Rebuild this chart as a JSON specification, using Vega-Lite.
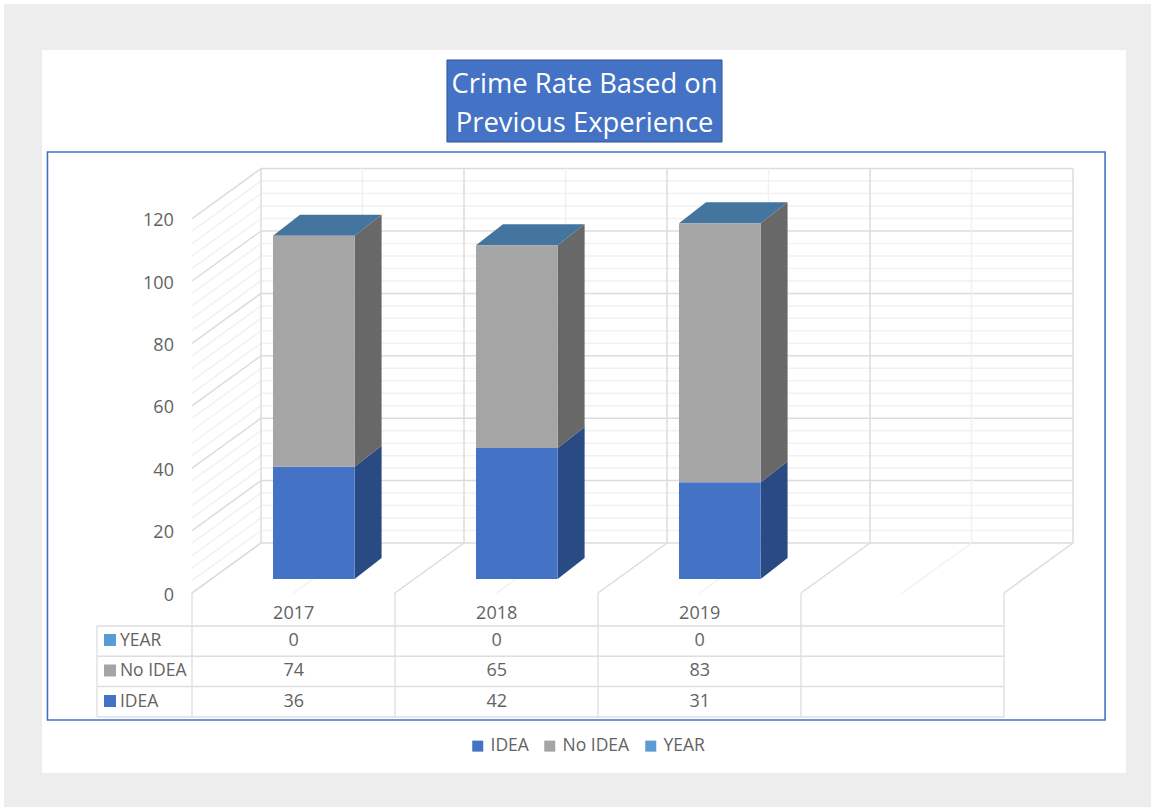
{
  "$schema": "https://vega.github.io/schema/vega-lite/v6.json",
  "width": 1151,
  "height": 807,
  "padding": 0,
  "autosize": {"type": "fit", "contains": "padding"},
  "background": "#ffffff",
  "config": {
    "view": {"stroke": null},
    "axis": {"disable": true},
    "text": {"font": "Open Sans", "fill": "#636363"}
  },
  "datasets": {
    "crime": [
      {"year": 2017, "series": "IDEA", "value": 36},
      {"year": 2017, "series": "No IDEA", "value": 74},
      {"year": 2017, "series": "YEAR", "value": 0},
      {"year": 2018, "series": "IDEA", "value": 42},
      {"year": 2018, "series": "No IDEA", "value": 65},
      {"year": 2018, "series": "YEAR", "value": 0},
      {"year": 2019, "series": "IDEA", "value": 31},
      {"year": 2019, "series": "No IDEA", "value": 83},
      {"year": 2019, "series": "YEAR", "value": 0}
    ],
    "levels": [
      {"level": 4, "kind": "minor"}, {"level": 8, "kind": "minor"}, {"level": 12, "kind": "minor"}, {"level": 16, "kind": "minor"},
      {"level": 24, "kind": "minor"}, {"level": 28, "kind": "minor"}, {"level": 32, "kind": "minor"}, {"level": 36, "kind": "minor"},
      {"level": 44, "kind": "minor"}, {"level": 48, "kind": "minor"}, {"level": 52, "kind": "minor"}, {"level": 56, "kind": "minor"},
      {"level": 64, "kind": "minor"}, {"level": 68, "kind": "minor"}, {"level": 72, "kind": "minor"}, {"level": 76, "kind": "minor"},
      {"level": 84, "kind": "minor"}, {"level": 88, "kind": "minor"}, {"level": 92, "kind": "minor"}, {"level": 96, "kind": "minor"},
      {"level": 104, "kind": "minor"}, {"level": 108, "kind": "minor"}, {"level": 112, "kind": "minor"}, {"level": 116, "kind": "minor"},
      {"level": 0, "kind": "major"}, {"level": 20, "kind": "major"}, {"level": 40, "kind": "major"}, {"level": 60, "kind": "major"},
      {"level": 80, "kind": "major"}, {"level": 100, "kind": "major"}, {"level": 120, "kind": "major"}
    ],
    "slots": [
      {"slot": 0.5, "kind": "minor"}, {"slot": 1.5, "kind": "minor"}, {"slot": 2.5, "kind": "minor"}, {"slot": 3.5, "kind": "minor"},
      {"slot": 0, "kind": "major"}, {"slot": 1, "kind": "major"}, {"slot": 2, "kind": "major"}, {"slot": 3, "kind": "major"}, {"slot": 4, "kind": "major"}
    ],
    "tableLines": [{"line": 0}, {"line": 1}, {"line": 2}, {"line": 3}]
  },
  "layer": [
    {
      "description": "grey page and white card",
      "data": {"values": [{}]},
      "mark": {"type": "rect", "color": "#ededed"},
      "encoding": {
        "x": {"datum": 2015.473, "type": "quantitative", "scale": {"domain": [2015.4532, 2021.1232], "nice": false, "zero": false}},
        "x2": {"datum": 2021.1232},
        "y": {"datum": 184.3, "type": "quantitative", "scale": {"domain": [-73.077, 185.577], "nice": false, "zero": false}},
        "y2": {"datum": -73.077}
      }
    },
    {
      "data": {"values": [{}]},
      "mark": {"type": "rect", "color": "#ffffff"},
      "encoding": {
        "x": {"datum": 2015.66, "type": "quantitative"},
        "x2": {"datum": 2021.0},
        "y": {"datum": 169.55, "type": "quantitative"},
        "y2": {"datum": -62.18}
      }
    },
    {
      "description": "blue outline round the plot and table",
      "data": {"values": [{}]},
      "mark": {"type": "rect", "fill": null, "fillOpacity": 0, "stroke": "#4472c4", "strokeWidth": 1.6},
      "encoding": {
        "x": {"datum": 2015.687, "type": "quantitative"},
        "x2": {"datum": 2020.897},
        "y": {"datum": 136.86, "type": "quantitative"},
        "y2": {"datum": -45.19}
      }
    },
    {
      "description": "title box",
      "data": {"values": [{}]},
      "mark": {"type": "rect", "fill": "#4472c4", "stroke": "#2f5597", "strokeWidth": 1},
      "encoding": {
        "x": {"datum": 2017.655, "type": "quantitative"},
        "x2": {"datum": 2019.01},
        "y": {"datum": 166.35, "type": "quantitative"},
        "y2": {"datum": 140.06}
      }
    },
    {
      "data": {"values": [{}]},
      "mark": {"type": "text", "fill": "#ffffff", "fontSize": 27.4, "lineHeight": 39, "align": "center", "baseline": "middle"},
      "encoding": {
        "x": {"datum": 2018.333, "type": "quantitative"},
        "y": {"datum": 158.4, "type": "quantitative"},
        "text": {"value": ["Crime Rate Based on", "Previous Experience"]}
      }
    },
    {
      "description": "back wall: horizontal gridlines",
      "data": {"name": "levels"},
      "transform": [
        {"calculate": "datum.level + 11.54", "as": "backY"}
      ],
      "mark": {"type": "rule", "strokeWidth": 1.5},
      "encoding": {
        "x": {"datum": 2016.739, "type": "quantitative"},
        "x2": {"datum": 2020.739},
        "y": {"field": "backY", "type": "quantitative"},
        "stroke": {"field": "kind", "type": "nominal", "scale": {"domain": ["major", "minor"], "range": ["#dcdcdc", "#f1f1f1"]}, "legend": null}
      }
    },
    {
      "description": "left wall: gridlines receding from the front edge",
      "data": {"name": "levels"},
      "transform": [
        {"calculate": "datum.level - 4.487", "as": "frontY"},
        {"calculate": "datum.level + 11.54", "as": "backY"}
      ],
      "mark": {"type": "rule", "strokeWidth": 1.5},
      "encoding": {
        "x": {"datum": 2016.399, "type": "quantitative"},
        "x2": {"datum": 2016.739},
        "y": {"field": "frontY", "type": "quantitative"},
        "y2": {"field": "backY"},
        "stroke": {"field": "kind", "type": "nominal", "legend": null}
      }
    },
    {
      "description": "back wall: verticals",
      "data": {"name": "slots"},
      "transform": [
        {"calculate": "2016.739 + datum.slot", "as": "backX"}
      ],
      "mark": {"type": "rule", "strokeWidth": 1.5},
      "encoding": {
        "x": {"field": "backX", "type": "quantitative"},
        "y": {"datum": 11.54, "type": "quantitative"},
        "y2": {"datum": 131.54},
        "stroke": {"field": "kind", "type": "nominal", "legend": null}
      }
    },
    {
      "description": "floor: lines from the table edge to the back wall",
      "data": {"name": "slots"},
      "transform": [
        {"calculate": "2016.399 + datum.slot", "as": "frontX"},
        {"calculate": "2016.739 + datum.slot", "as": "backX"}
      ],
      "mark": {"type": "rule", "strokeWidth": 1.5},
      "encoding": {
        "x": {"field": "frontX", "type": "quantitative"},
        "x2": {"field": "backX"},
        "y": {"datum": -4.487, "type": "quantitative"},
        "y2": {"datum": 11.54},
        "stroke": {"field": "kind", "type": "nominal", "legend": null}
      }
    },
    {
      "description": "data table: column lines",
      "data": {"name": "slots"},
      "transform": [
        {"filter": "datum.kind === 'major'"},
        {"calculate": "2016.399 + datum.slot", "as": "frontX"}
      ],
      "mark": {"type": "rule", "strokeWidth": 1.5, "color": "#e2e2e2"},
      "encoding": {
        "x": {"field": "frontX", "type": "quantitative"},
        "y": {"datum": -4.487, "type": "quantitative"},
        "y2": {"datum": -44.2}
      }
    },
    {
      "data": {"values": [{}]},
      "mark": {"type": "rule", "strokeWidth": 1.5, "color": "#e2e2e2"},
      "encoding": {
        "x": {"datum": 2015.931, "type": "quantitative"},
        "y": {"datum": -15.06, "type": "quantitative"},
        "y2": {"datum": -44.2}
      }
    },
    {
      "description": "data table: row lines",
      "data": {"name": "tableLines"},
      "transform": [
        {"calculate": "-15.06 - 9.713 * datum.line", "as": "rowY"}
      ],
      "mark": {"type": "rule", "strokeWidth": 1.5, "color": "#dedede"},
      "encoding": {
        "x": {"datum": 2015.931, "type": "quantitative"},
        "x2": {"datum": 2020.399},
        "y": {"field": "rowY", "type": "quantitative"}
      }
    },
    {
      "description": "right-hand bar faces, IDEA",
      "data": {"name": "crime"},
      "transform": [
        {"stack": "value", "groupby": ["year"], "sort": [{"field": "series", "order": "ascending"}], "as": ["low", "high"]},
        {"filter": "datum.series === 'IDEA'"},
        {"calculate": "[0, 1]", "as": "t"},
        {"flatten": ["t"]},
        {"calculate": "datum.year + 0.2 + 0.133 * datum.t", "as": "sideX"},
        {"calculate": "datum.low + 6.73 * datum.t", "as": "sideLow"},
        {"calculate": "datum.high + 6.73 * datum.t", "as": "sideHigh"}
      ],
      "mark": {"type": "area", "color": "#2a4a84", "opacity": 1},
      "encoding": {
        "x": {"field": "sideX", "type": "quantitative"},
        "y": {"field": "sideLow", "type": "quantitative", "stack": null},
        "y2": {"field": "sideHigh"},
        "detail": {"field": "year", "type": "nominal"}
      }
    },
    {
      "description": "right-hand bar faces, No IDEA",
      "data": {"name": "crime"},
      "transform": [
        {"stack": "value", "groupby": ["year"], "sort": [{"field": "series", "order": "ascending"}], "as": ["low", "high"]},
        {"filter": "datum.series === 'No IDEA'"},
        {"calculate": "[0, 1]", "as": "t"},
        {"flatten": ["t"]},
        {"calculate": "datum.year + 0.2 + 0.133 * datum.t", "as": "sideX"},
        {"calculate": "datum.low + 6.73 * datum.t", "as": "sideLow"},
        {"calculate": "datum.high + 6.73 * datum.t", "as": "sideHigh"}
      ],
      "mark": {"type": "area", "color": "#686868", "opacity": 1},
      "encoding": {
        "x": {"field": "sideX", "type": "quantitative"},
        "y": {"field": "sideLow", "type": "quantitative", "stack": null},
        "y2": {"field": "sideHigh"},
        "detail": {"field": "year", "type": "nominal"}
      }
    },
    {
      "description": "top faces: the zero-height YEAR segment seen from above",
      "data": {"name": "crime"},
      "transform": [
        {"stack": "value", "groupby": ["year"], "sort": [{"field": "series", "order": "ascending"}], "as": ["low", "high"]},
        {"filter": "datum.series === 'YEAR'"},
        {"calculate": "[0, 1, 2, 3]", "as": "t"},
        {"flatten": ["t"]},
        {"calculate": "datum.year - 0.202 + [0, 0.133, 0.402, 0.535][datum.t]", "as": "topX"},
        {"calculate": "datum.high + [0, 0, 0, 6.73][datum.t]", "as": "topLow"},
        {"calculate": "datum.high + [0, 6.73, 6.73, 6.73][datum.t]", "as": "topHigh"}
      ],
      "mark": {"type": "area", "color": "#44759f", "opacity": 1},
      "encoding": {
        "x": {"field": "topX", "type": "quantitative"},
        "y": {"field": "topLow", "type": "quantitative", "stack": null},
        "y2": {"field": "topHigh"},
        "detail": {"field": "year", "type": "nominal"}
      }
    },
    {
      "description": "front bar faces, with the legend",
      "data": {"name": "crime"},
      "transform": [
        {"stack": "value", "groupby": ["year"], "sort": [{"field": "series", "order": "ascending"}], "as": ["low", "high"]},
        {"calculate": "datum.year - 0.202", "as": "barLeft"},
        {"calculate": "datum.year + 0.2", "as": "barRight"}
      ],
      "mark": {"type": "rect"},
      "encoding": {
        "x": {"field": "barLeft", "type": "quantitative"},
        "x2": {"field": "barRight"},
        "y": {"field": "low", "type": "quantitative"},
        "y2": {"field": "high"},
        "color": {
          "field": "series",
          "type": "nominal",
          "scale": {"domain": ["IDEA", "No IDEA", "YEAR"], "range": ["#4472c4", "#a5a5a5", "#5b9bd5"]},
          "legend": {
            "orient": "none",
            "legendX": 469,
            "legendY": 737,
            "direction": "horizontal",
            "title": null,
            "symbolType": "square",
            "symbolSize": 121,
            "symbolStrokeWidth": 0,
            "labelFont": "Open Sans",
            "labelFontSize": 17.5,
            "labelColor": "#636363",
            "columnPadding": 12
          }
        }
      }
    },
    {
      "description": "value labels on the front edge of the left wall",
      "data": {"name": "levels"},
      "transform": [
        {"filter": "datum.kind === 'major'"},
        {"calculate": "datum.level - 5.3", "as": "labelY"}
      ],
      "mark": {"type": "text", "fontSize": 18, "align": "right", "baseline": "middle"},
      "encoding": {
        "x": {"datum": 2016.31, "type": "quantitative"},
        "y": {"field": "labelY", "type": "quantitative"},
        "text": {"field": "level", "type": "quantitative"}
      }
    },
    {
      "description": "year headings of the data table",
      "data": {"name": "crime"},
      "transform": [
        {"filter": "datum.series === 'IDEA'"},
        {"calculate": "datum.year - 0.1", "as": "cellX"}
      ],
      "mark": {"type": "text", "fontSize": 18, "align": "center", "baseline": "middle"},
      "encoding": {
        "x": {"field": "cellX", "type": "quantitative"},
        "y": {"datum": -11.2, "type": "quantitative"},
        "text": {"field": "year", "type": "nominal"}
      }
    },
    {
      "description": "data table cells",
      "data": {"name": "crime"},
      "transform": [
        {"calculate": "datum.year - 0.1", "as": "cellX"},
        {"calculate": "-39.4 + 9.78 * indexof(['IDEA', 'No IDEA', 'YEAR'], datum.series)", "as": "cellY"}
      ],
      "mark": {"type": "text", "fontSize": 18, "align": "center", "baseline": "middle"},
      "encoding": {
        "x": {"field": "cellX", "type": "quantitative"},
        "y": {"field": "cellY", "type": "quantitative"},
        "text": {"field": "value", "type": "quantitative"}
      }
    },
    {
      "description": "series names in the first table column",
      "data": {"name": "crime"},
      "transform": [
        {"filter": "datum.year === 2017"},
        {"calculate": "-39.4 + 9.78 * indexof(['IDEA', 'No IDEA', 'YEAR'], datum.series)", "as": "cellY"}
      ],
      "mark": {"type": "text", "fontSize": 17.5, "align": "left", "baseline": "middle"},
      "encoding": {
        "x": {"datum": 2016.044, "type": "quantitative"},
        "y": {"field": "cellY", "type": "quantitative"},
        "text": {"field": "series", "type": "nominal"}
      }
    },
    {
      "description": "colour keys in the first table column",
      "data": {"name": "crime"},
      "transform": [
        {"filter": "datum.year === 2017"},
        {"calculate": "-39.1 + 9.78 * indexof(['IDEA', 'No IDEA', 'YEAR'], datum.series)", "as": "cellY"}
      ],
      "mark": {"type": "point", "shape": "square", "filled": true, "size": 144, "opacity": 1},
      "encoding": {
        "x": {"datum": 2015.995, "type": "quantitative"},
        "y": {"field": "cellY", "type": "quantitative"},
        "color": {"field": "series", "type": "nominal"}
      }
    }
  ]
}
